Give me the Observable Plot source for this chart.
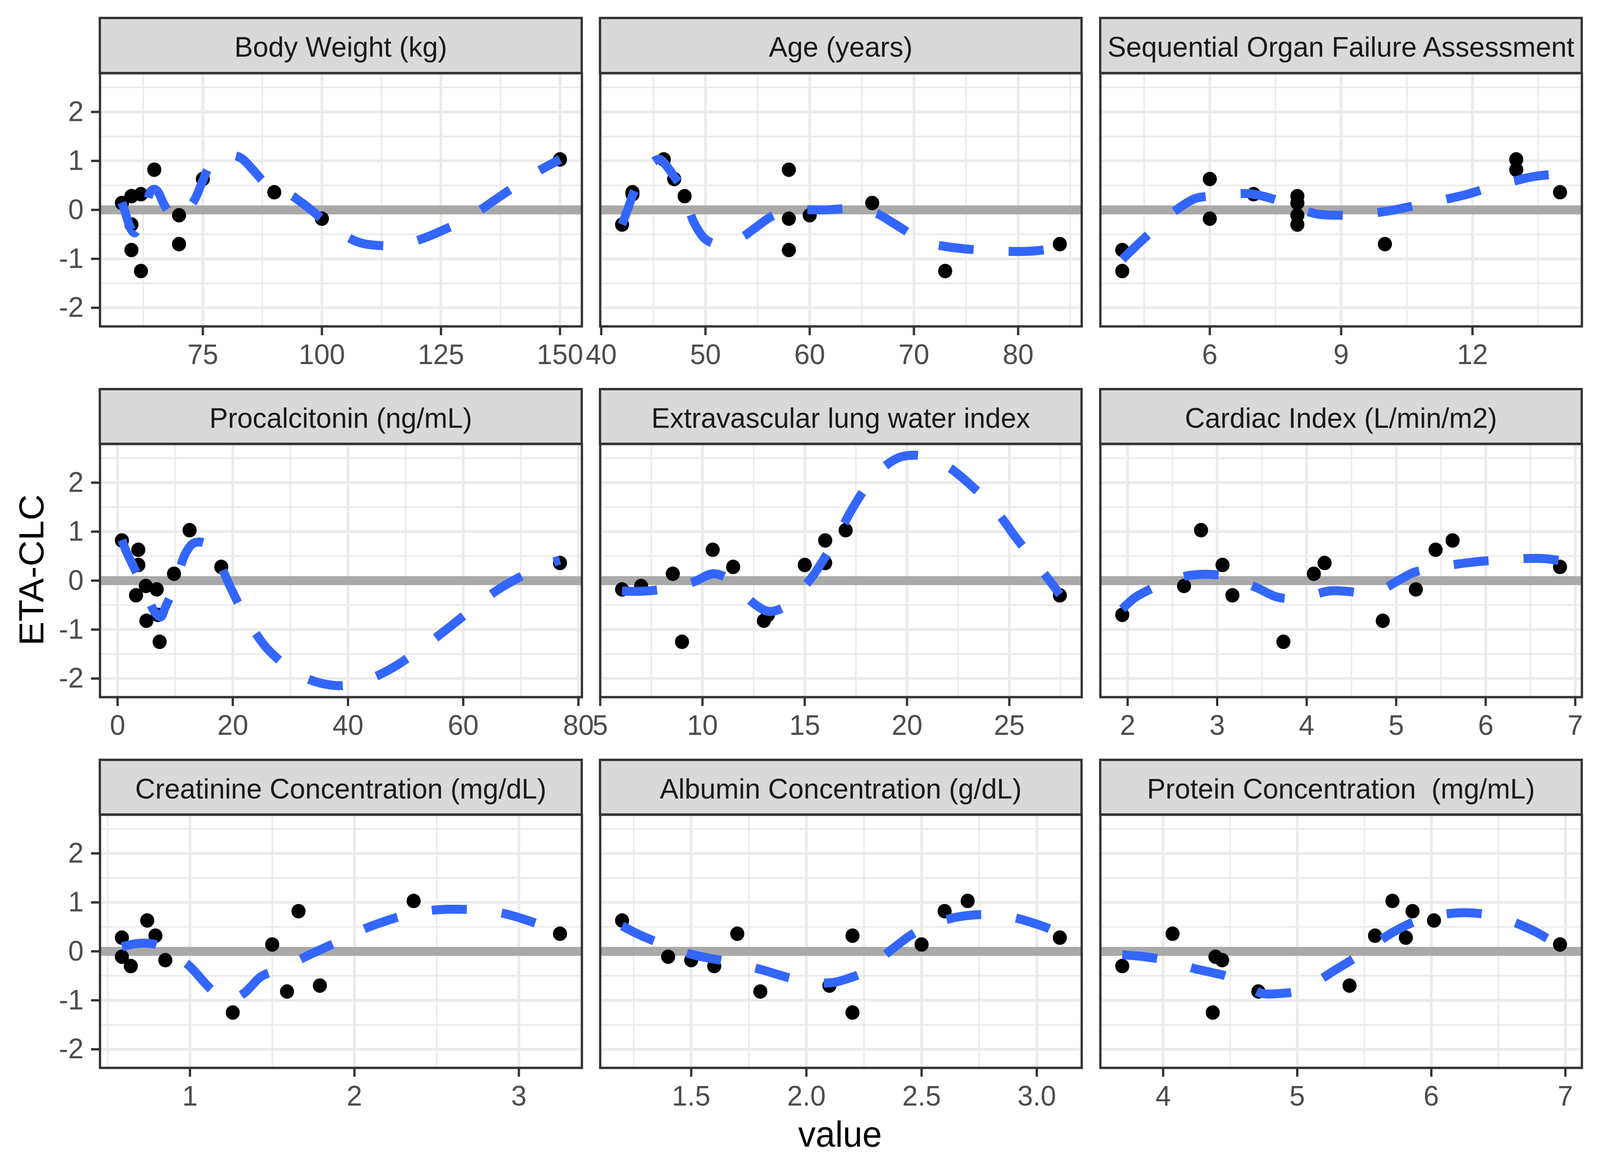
<!DOCTYPE html>
<html><head><meta charset="utf-8">
<script src="https://cdn.jsdelivr.net/npm/d3@7"></script>
<script src="https://cdn.jsdelivr.net/npm/@observablehq/plot@0.6"></script>
<style>
html,body{margin:0;padding:0;background:#fff;overflow:hidden;}
#fig{position:absolute;left:0;top:0;width:4200px;height:3000px;background:#fff;font-family:"Liberation Sans",Arial,Helvetica,sans-serif;overflow:hidden;transform-origin:0 0;}
.strip{position:absolute;box-sizing:border-box;background:#D9D9D9;border:6px solid #333333;color:#1A1A1A;font-size:73px;white-space:pre;text-align:center;line-height:141px;}
.title{position:absolute;color:#000;font-size:92px;line-height:92px;text-align:center;white-space:pre;}
svg{overflow:visible;}
</style></head><body><div id="fig"></div><script>
// ETA-CLC for the 13 subjects (same order in every covariate array)
const eta = [1.03, 0.82, 0.63, 0.36, 0.32, 0.28, 0.14, -0.11, -0.18, -0.30, -0.70, -0.82, -1.25];
const bodyWeight = [150, 64.8, 75, 90, 62, 60, 58, 70, 100, 60, 70, 60, 62];
const age = [46, 58, 47, 43, 43, 48, 66, 60, 58, 42, 84, 58, 73];
const sofa = [13, 13, 6, 14, 7, 8, 8, 8, 6, 8, 10, 4, 4];
const procalcitonin = [12.5, 0.75, 3.6, 76.8, 3.6, 18, 9.8, 4.9, 6.8, 3.2, 7.0, 5.0, 7.3];
const evlwi = [17, 16, 10.5, 16, 15, 11.5, 8.55, 7.0, 6.07, 27.47, 13.2, 13.0, 9.0];
const cardiacIndex = [2.82, 5.63, 5.44, 4.2, 3.06, 6.83, 4.08, 2.63, 5.22, 3.17, 1.94, 4.85, 3.74];
const creatinine = [2.36, 1.66, 0.74, 3.25, 0.79, 0.586, 1.50, 0.586, 0.85, 0.64, 1.79, 1.59, 1.26];
const albumin = [2.70, 2.60, 1.20, 1.70, 2.20, 3.10, 2.50, 1.40, 1.50, 1.60, 2.10, 1.80, 2.20];
const protein = [5.71, 5.86, 6.02, 4.07, 5.58, 5.81, 6.96, 4.39, 4.44, 3.695, 5.39, 4.71, 4.37];

// loess smooth curves [x, y]
const bwSmooth = [[58,0.15],[58.7,-0.05],[59.4,-0.27],[60.2,-0.44],[60.7,-0.47],[61.5,-0.35],[62.5,-0.1],[63.3,0.15],[64,0.37],[64.8,0.42],[65.5,0.38],[66.8,0.12],[68.2,-0.09],[69.5,-0.16],[71,-0.08],[72.4,0.08],[73.5,0.25],[75,0.6],[76.6,0.93],[78.5,1.08],[80.5,1.12],[83,1.06],[85.5,0.82],[88.1,0.55],[91,0.4],[93.5,0.3],[95.3,0.18],[98,-0.02],[100.5,-0.23],[104,-0.48],[108,-0.67],[112.5,-0.73],[116,-0.72],[119.5,-0.64],[122.7,-0.53],[126,-0.39],[129.5,-0.23],[133,-0.02],[136.3,0.2],[139.3,0.4],[142.2,0.58],[146,0.82],[150,1.03]];
const ageSmooth = [[42,-0.3],[42.6,0.05],[43.2,0.40],[44,0.72],[44.8,0.95],[45.6,1.03],[46.4,0.86],[47,0.68],[47.6,0.50],[48.3,0.1],[48.9,-0.26],[50,-0.6],[51.4,-0.72],[52.5,-0.68],[53.6,-0.55],[54.7,-0.38],[56.3,-0.14],[57.6,-0.04],[59.5,0.0],[61.5,0.0],[63,0.02],[64.8,0.03],[66.5,-0.08],[68.1,-0.28],[71,-0.65],[72.8,-0.74],[74.6,-0.79],[77.9,-0.84],[79.7,-0.85],[81.5,-0.84],[84,-0.77]];
const sofaSmooth = [[4,-1.01],[4.3,-0.75],[4.6,-0.50],[4.95,-0.2],[5.25,0.01],[5.66,0.23],[6,0.28],[6.45,0.32],[6.9,0.33],[7.3,0.26],[7.65,0.16],[8.05,0.02],[8.48,-0.09],[8.97,-0.11],[9.3,-0.11],[9.7,-0.07],[10.16,-0.01],[10.96,0.14],[11.4,0.22],[11.8,0.30],[12.56,0.50],[13,0.6],[13.4,0.68],[14,0.74]];
const procSmooth = [[0.75,0.83],[1.5,0.6],[2.5,0.35],[3.45,0.12],[4.5,-0.15],[5.5,-0.42],[6.5,-0.65],[7.5,-0.74],[8.3,-0.54],[9.5,-0.23],[10.6,0.17],[11.8,0.56],[13,0.75],[14.1,0.79],[15.3,0.76],[16.4,0.68],[17.8,0.35],[19.3,-0.06],[22.1,-0.72],[24,-1.08],[25.9,-1.38],[28,-1.62],[30.5,-1.86],[33.5,-2.03],[36.8,-2.13],[39.7,-2.14],[42.7,-2.05],[45.5,-1.92],[48.6,-1.72],[53.7,-1.30],[56.3,-1.07],[58.9,-0.83],[63.8,-0.37],[66.5,-0.15],[69.3,0.04],[74.4,0.33],[76.8,0.42]];
const evlwiSmooth = [[6.07,-0.21],[6.9,-0.22],[7.83,-0.19],[8.7,-0.12],[9.6,-0.02],[10.5,0.14],[11.25,0.04],[11.9,-0.22],[12.55,-0.48],[13.27,-0.63],[14.16,-0.50],[14.8,-0.2],[15.37,0.08],[16.34,0.72],[16.8,1.06],[17.23,1.40],[18.2,2.03],[18.9,2.33],[19.65,2.52],[20.46,2.56],[21.35,2.48],[22.1,2.3],[22.9,2.03],[24.2,1.51],[24.75,1.21],[25.3,0.89],[26.44,0.29],[27.47,-0.28]];
const ciSmooth = [[1.94,-0.58],[2.08,-0.35],[2.27,-0.16],[2.47,0.0],[2.67,0.10],[2.87,0.13],[3.07,0.10],[3.27,-0.02],[3.46,-0.16],[3.66,-0.33],[3.85,-0.37],[4.05,-0.3],[4.26,-0.21],[4.45,-0.22],[4.65,-0.25],[4.85,-0.17],[5.04,0.02],[5.2,0.17],[5.4,0.25],[5.62,0.32],[5.82,0.37],[6.21,0.43],[6.43,0.45],[6.64,0.45],[6.83,0.41]];
const creatSmooth = [[0.586,0.09],[0.68,0.16],[0.79,0.14],[0.89,-0.05],[0.99,-0.28],[1.14,-0.81],[1.24,-1.0],[1.33,-0.85],[1.43,-0.52],[1.51,-0.40],[1.62,-0.25],[1.72,-0.08],[1.92,0.23],[2.02,0.40],[2.13,0.55],[2.33,0.76],[2.45,0.83],[2.56,0.86],[2.78,0.84],[2.9,0.78],[3.0,0.69],[3.2,0.46],[3.25,0.40]];
const albSmooth = [[1.2,0.52],[1.27,0.35],[1.34,0.21],[1.42,0.07],[1.5,-0.06],[1.58,-0.14],[1.65,-0.20],[1.73,-0.29],[1.81,-0.38],[1.88,-0.48],[1.95,-0.57],[2.03,-0.63],[2.11,-0.64],[2.19,-0.54],[2.26,-0.40],[2.32,-0.15],[2.39,0.11],[2.45,0.32],[2.52,0.50],[2.6,0.64],[2.68,0.72],[2.75,0.75],[2.83,0.74],[2.91,0.68],[2.99,0.57],[3.05,0.47],[3.10,0.35]];
const protSmooth = [[3.695,-0.07],[3.83,-0.10],[3.96,-0.15],[4.1,-0.24],[4.23,-0.35],[4.36,-0.43],[4.49,-0.52],[4.62,-0.70],[4.74,-0.86],[4.87,-0.86],[5.01,-0.81],[5.13,-0.65],[5.26,-0.42],[5.38,-0.22],[5.49,-0.03],[5.6,0.19],[5.72,0.40],[5.86,0.59],[5.97,0.69],[6.1,0.76],[6.24,0.79],[6.37,0.77],[6.5,0.71],[6.63,0.58],[6.77,0.41],[6.96,0.11]];

// panel titles and tick values
const titles = ["Body Weight (kg)","Age (years)","Sequential Organ Failure Assessment","Procalcitonin (ng/mL)","Extravascular lung water index","Cardiac Index (L/min/m2)","Creatinine Concentration (mg/dL)","Albumin Concentration (g/dL)","Protein Concentration  (mg/mL)"];
const bwTicks=[75,100,125,150], bwMinor=[62.5,87.5,112.5,137.5];
const ageTicks=[40,50,60,70,80], ageMinor=[45,55,65,75,85];
const sofaTicks=[6,9,12], sofaMinor=[4.5,7.5,10.5,13.5];
const procTicks=[0,20,40,60,80], procMinor=[10,30,50,70];
const evlwiTicks=[5,10,15,20,25], evlwiMinor=[7.5,12.5,17.5,22.5,27.5];
const ciTicks=[2,3,4,5,6,7], ciMinor=[2.5,3.5,4.5,5.5,6.5];
const creatTicks=[1,2,3], creatMinor=[0.5,1.5,2.5];
const albTicks=[1.5,2.0,2.5,3.0], albMinor=[1.25,1.75,2.25,2.75];
const protTicks=[4,5,6,7], protMinor=[4.5,5.5,6.5];
const yTicks=[-2,-1,0,1,2], yMinor=[-1.5,-0.5,0.5,1.5,2.5];
const yDom=[-2.38,2.79];
const xLabel="value", yLabel="ETA-CLC";

const panels=[
 {x:bodyWeight,ticks:bwTicks,minor:bwMinor,smooth:bwSmooth},
 {x:age,ticks:ageTicks,minor:ageMinor,smooth:ageSmooth},
 {x:sofa,ticks:sofaTicks,minor:sofaMinor,smooth:sofaSmooth},
 {x:procalcitonin,ticks:procTicks,minor:procMinor,smooth:procSmooth},
 {x:evlwi,ticks:evlwiTicks,minor:evlwiMinor,smooth:evlwiSmooth},
 {x:cardiacIndex,ticks:ciTicks,minor:ciMinor,smooth:ciSmooth},
 {x:creatinine,ticks:creatTicks,minor:creatMinor,smooth:creatSmooth},
 {x:albumin,ticks:albTicks,minor:albMinor,smooth:albSmooth,fmt:d3.format(".1f")},
 {x:protein,ticks:protTicks,minor:protMinor,smooth:protSmooth}
];

const fig=document.getElementById('fig');
const colLeft=[262,1575,2888], colW=[1265,1264,1264];
const stripTop=[46,996,1945], panelTop=[187,1136,2085], panelH=648;
const mL=150,mR=60,mT=20,mB=150;
const font='"Liberation Sans", Arial, Helvetica, sans-serif';

panels.forEach((p,i)=>{
  const col=i%3,row=Math.floor(i/3);
  const L=colLeft[col],T=panelTop[row],w=colW[col];
  const [a,b]=d3.extent(p.x), r=b-a;
  const pts=p.x.map((x,j)=>({x,y:eta[j]}));
  const sm=p.smooth.map(([x,y])=>({x,y}));
  const marks=[
    Plot.ruleX(p.minor,{stroke:"#EBEBEB",strokeWidth:4}),
    Plot.ruleX(p.ticks,{stroke:"#EBEBEB",strokeWidth:7}),
    Plot.ruleY(yMinor,{stroke:"#EBEBEB",strokeWidth:4}),
    Plot.ruleY(yTicks,{stroke:"#EBEBEB",strokeWidth:7}),
    Plot.ruleY([0],{stroke:"#A9A9A9",strokeWidth:23}),
    Plot.dot(pts,{x:"x",y:"y",r:18.5,fill:"#000000",stroke:null}),
    Plot.line(sm,{x:"x",y:"y",stroke:"#3366FF",strokeWidth:23,strokeDasharray:"92 92",strokeLinecap:"butt",strokeLinejoin:"round",curve:"catmull-rom"}),
    Plot.frame({stroke:"#333333",strokeWidth:6}),
    Plot.axisX({ticks:p.ticks,tickSize:23,tickPadding:22,stroke:"#333333",strokeWidth:6,fill:"#4D4D4D",fontSize:73,tickFormat:p.fmt||(d=>String(d)),label:null})
  ];
  if(col===0) marks.push(Plot.axisY({ticks:yTicks,tickSize:23,tickPadding:20,stroke:"#333333",strokeWidth:6,fill:"#4D4D4D",fontSize:73,tickFormat:d=>String(d),label:null}));
  const svg=Plot.plot({
    width:w+mL+mR,height:panelH+mT+mB,marginLeft:mL,marginRight:mR,marginTop:mT,marginBottom:mB,
    x:{domain:[a-0.05*r,b+0.05*r],label:null},
    y:{domain:yDom,label:null,axis:col===0?undefined:null},
    style:{fontFamily:font,fontSize:"73px",background:"transparent",overflow:"visible"},
    marks
  });
  svg.style.position="absolute";
  svg.style.left=(L-mL)+"px";
  svg.style.top=(T-mT)+"px";
  fig.appendChild(svg);

  const s=document.createElement('div');
  s.className='strip';
  const sT=stripTop[row];
  s.style.left=(L-3)+"px"; s.style.top=(sT-3)+"px";
  s.style.width=(w+6)+"px"; s.style.height=(T-sT+6)+"px";
  s.textContent=titles[i];
  fig.appendChild(s);
});

const xt=document.createElement('div');
xt.className='title';
xt.style.left=(2205-500)+"px"; xt.style.top="2857px"; xt.style.width="1000px";
xt.textContent=xLabel;
fig.appendChild(xt);

const yt=document.createElement('div');
yt.className='title';
yt.style.left=(81.6-300)+"px"; yt.style.top=(1459-46)+"px"; yt.style.width="600px"; yt.style.height="92px";
yt.style.transform="rotate(-90deg)";
yt.textContent=yLabel;
fig.appendChild(yt);

// fit the 4200x3000 figure into whatever viewport the page is shown in
function fit(){
  const vw=document.documentElement.clientWidth||window.innerWidth||4200;
  const vh=document.documentElement.clientHeight||window.innerHeight||3000;
  const sx=Math.min(1,vw/4200), sy=Math.min(1,vh/3000);
  fig.style.transform=(sx<1||sy<1)?`scale(${sx},${sy})`:"none";
}
fit();
window.addEventListener('resize',fit);
</script></body></html>
